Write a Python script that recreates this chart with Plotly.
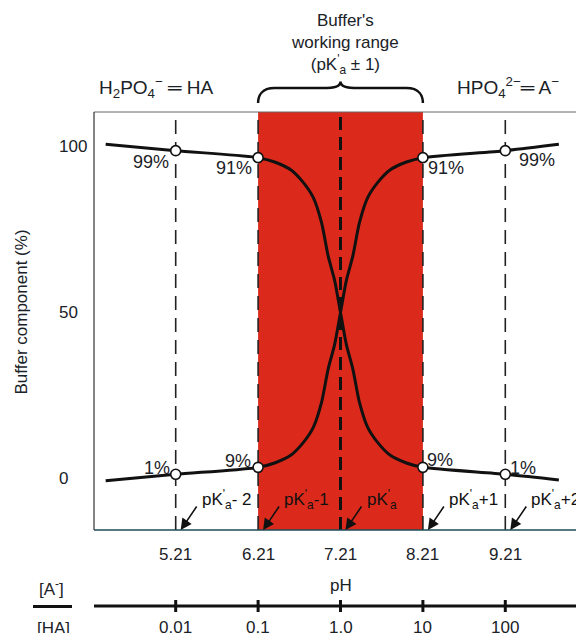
import plotly.graph_objects as go

# ---------------- data ----------------
ph = [4.36, 5.21, 6.21, 6.41, 6.61, 6.76, 6.88, 6.98, 7.06, 7.14, 7.21,
      7.28, 7.36, 7.44, 7.54, 7.66, 7.81, 8.01, 8.21, 9.21, 9.86]
ha_pct = [100.5, 98.6, 96.5, 95.2, 92.8, 89.0, 84.5, 77.0, 67.0, 59.5, 50.0,
          40.5, 33.0, 23.0, 15.5, 11.0, 7.2, 4.8, 3.5, 1.4, -0.3]
a_pct = [-0.5, 1.4, 3.5, 4.8, 7.2, 11.0, 15.5, 23.0, 33.0, 40.5, 50.0,
         59.5, 67.0, 77.0, 84.5, 89.0, 92.8, 95.2, 96.5, 98.6, 100.5]

circle_ph = [5.21, 6.21, 8.21, 9.21]
circle_ha = [98.6, 96.5, 3.5, 1.4]
circle_a = [1.4, 3.5, 96.5, 98.6]
ha_labels = ["99%", "91%", "9%", "1%"]
a_labels = ["1%", "9%", "91%", "99%"]

ph_ticks = [5.21, 6.21, 7.21, 8.21, 9.21]
ph_tick_labels = ["5.21", "6.21", "7.21", "8.21", "9.21"]
ratio_labels = ["0.01", "0.1", "1.0", "10", "100"]
pk_labels = ["pK<sup>'</sup><sub>a</sub>- 2", "pK<sup>'</sup><sub>a</sub>-1",
             "pK<sup>'</sup><sub>a</sub>", "pK<sup>'</sup><sub>a</sub>+1",
             "pK<sup>'</sup><sub>a</sub>+2"]
y_ticks = [100, 50, 0]
pka = 7.21
range_lo, range_hi = 6.21, 8.21

# ---------------- layout constants ----------------
W, H = 576, 633
ML, MR, MT, MB = 94, 0, 112, 103
PW, PH = W - ML - MR, H - MT - MB
FONT = "Liberation Sans, Arial, sans-serif"
TXT = "#1a2227"
RED = "#DB2A1C"


def py(p):
    """pixel row -> paper y"""
    return (H - MB - p) / PH


def px(p):
    """pixel column -> paper x"""
    return (p - ML) / PW


fig = go.Figure()

# curves
fig.add_trace(go.Scatter(x=ph, y=ha_pct, mode="lines",
                         line=dict(color="#111", width=3, shape="spline", smoothing=0.7),
                         hoverinfo="skip", showlegend=False))
fig.add_trace(go.Scatter(x=ph, y=a_pct, mode="lines",
                         line=dict(color="#111", width=3, shape="spline", smoothing=0.7),
                         hoverinfo="skip", showlegend=False))
# open circles
fig.add_trace(go.Scatter(x=circle_ph + circle_ph, y=circle_ha + circle_a, mode="markers",
                         marker=dict(size=10, color="white", line=dict(color="#111", width=1.6)),
                         hoverinfo="skip", showlegend=False))

shapes = []
# red working range
shapes.append(dict(type="rect", xref="x", yref="paper", x0=range_lo, x1=range_hi, y0=0, y1=1,
                   fillcolor=RED, line=dict(width=0), layer="below"))
# dashed vertical lines
for v in ph_ticks:
    if v == pka:
        shapes.append(dict(type="line", xref="x", yref="paper", x0=v, x1=v, y0=0, y1=1,
                           layer="below",
                           line=dict(color="#111", width=3, dash="13px,7px")))
    else:
        shapes.append(dict(type="line", xref="x", yref="paper", x0=v, x1=v, y0=0, y1=1,
                           layer="below",
                           line=dict(color="#222", width=1.6, dash="14px,8px")))
# frame
shapes.append(dict(type="line", xref="paper", yref="paper", x0=0, x1=1, y0=1, y1=1,
                   line=dict(color="#666", width=1)))
shapes.append(dict(type="line", xref="paper", yref="paper", x0=0, x1=1, y0=0, y1=0,
                   line=dict(color="#1d4a55", width=1.5)))
shapes.append(dict(type="line", xref="paper", yref="paper", x0=0, x1=0, y0=0, y1=1,
                   line=dict(color="#333", width=1.2)))
# brace above working range
ye, ys, yp = py(103), py(88), py(81.5)
m = pka
path = (f"M {range_lo},{ye} C {range_lo},{ys - 0.02} {range_lo + 0.04},{ys} {range_lo + 0.2},{ys} "
        f"L {m - 0.22},{ys} C {m - 0.06},{ys} {m},{ys + 0.004} {m},{yp} "
        f"C {m},{ys + 0.004} {m + 0.06},{ys} {m + 0.22},{ys} "
        f"L {range_hi - 0.2},{ys} C {range_hi - 0.04},{ys} {range_hi},{ys - 0.02} {range_hi},{ye}")
shapes.append(dict(type="path", xref="x", yref="paper", path=path,
                   line=dict(color="#111", width=2.5)))
# bottom ratio axis
shapes.append(dict(type="line", xref="paper", yref="paper", x0=0, x1=1, y0=py(606), y1=py(606),
                   line=dict(color="#111", width=3)))
for v in ph_ticks:
    shapes.append(dict(type="line", xref="x", yref="paper", x0=v, x1=v, y0=py(600), y1=py(612),
                       line=dict(color="#111", width=3)))
# fraction bar
shapes.append(dict(type="line", xref="paper", yref="paper", x0=px(33), x1=px(72),
                   y0=py(606.5), y1=py(606.5), line=dict(color="#111", width=3)))

ann = []
f17 = dict(family=FONT, size=17, color=TXT)
f18 = dict(family=FONT, size=18, color=TXT)
fpk = dict(family=FONT, size=17, color="#111")

# percentage labels
ha_off = [("right", -5, -11), ("right", -4, -10), ("left", 2, 7), ("left", 3, 6)]
a_off = [("right", -4, 6), ("right", -5, 6), ("left", 3, -10), ("left", 12, -9)]
for x, y, t, (anc, xs, ys_) in zip(circle_ph, circle_ha, ha_labels, ha_off):
    ann.append(dict(x=x, y=y, xref="x", yref="y", text=t, showarrow=False, font=f18,
                    xanchor=anc, yanchor="middle", xshift=xs, yshift=ys_))
for x, y, t, (anc, xs, ys_) in zip(circle_ph, circle_a, a_labels, a_off):
    ann.append(dict(x=x, y=y, xref="x", yref="y", text=t, showarrow=False, font=f18,
                    xanchor=anc, yanchor="middle", xshift=xs, yshift=ys_))

# pK labels with arrows
for v, t in zip(ph_ticks, pk_labels):
    ann.append(dict(x=v, y=py(499), xref="x", yref="paper", text=t, showarrow=False,
                    font=fpk, xanchor="left", yanchor="middle", xshift=24))
    ann.append(dict(x=v, y=0, xref="x", yref="paper", text="", showarrow=True,
                    xshift=5, ax=17, ay=-25, arrowhead=2, arrowsize=1.4, arrowwidth=1.6,
                    arrowcolor="#111"))

# pH tick labels
for v, t in zip(ph_ticks, ph_tick_labels):
    ann.append(dict(x=v, y=py(554), xref="x", yref="paper", text=t, showarrow=False,
                    font=f17, xanchor="center", yanchor="middle"))
# ratio labels
for v, t in zip(ph_ticks, ratio_labels):
    ann.append(dict(x=v, y=py(627), xref="x", yref="paper", text=t, showarrow=False,
                    font=f17, xanchor="center", yanchor="middle"))
# y tick labels
for v in y_ticks:
    ann.append(dict(x=px(57), y=v, xref="paper", yref="y", text=str(v), showarrow=False,
                    font=f17, xanchor="left", yanchor="middle"))

# other text
ann.append(dict(x=px(20.5), y=py(312), xref="paper", yref="paper", text="Buffer component (%)",
                showarrow=False, font=f17, textangle=-90, xanchor="center", yanchor="middle"))
ann.append(dict(x=pka, y=py(585), xref="x", yref="paper", text="pH", showarrow=False,
                font=f17, xanchor="center", yanchor="middle"))
ann.append(dict(x=px(51), y=py(588), xref="paper", yref="paper", text="[A<sup>-</sup>]",
                showarrow=False, font=f17, xanchor="center", yanchor="middle"))
ann.append(dict(x=px(53), y=py(628), xref="paper", yref="paper", text="[HA]",
                showarrow=False, font=f17, xanchor="center", yanchor="middle"))
ann.append(dict(x=pka, y=py(44), xref="x", yref="paper",
                text="Buffer's<br>working range<br>(pK<sup>'</sup><sub>a</sub> ± 1)",
                showarrow=False, font=f17, xanchor="center", yanchor="middle", xshift=4))
ann.append(dict(x=px(97), y=py(88), xref="paper", yref="paper",
                text="H<sub>2</sub>PO<sub>4</sub><sup>−</sup> ═ HA",
                showarrow=False, font=dict(family=FONT, size=19, color=TXT),
                xanchor="left", yanchor="middle"))
ann.append(dict(x=px(455), y=py(88), xref="paper", yref="paper",
                text="HPO<sub>4</sub><sup>2−</sup>═ A<sup>−</sup>",
                showarrow=False, font=dict(family=FONT, size=19, color=TXT),
                xanchor="left", yanchor="middle"))

fig.update_layout(
    width=W, height=H,
    margin=dict(l=ML, r=MR, t=MT, b=MB, pad=0),
    paper_bgcolor="white", plot_bgcolor="white",
    xaxis=dict(range=[4.2185, 10.068], visible=False, fixedrange=True),
    yaxis=dict(range=[-15.32, 110.21], visible=False, fixedrange=True),
    shapes=shapes, annotations=ann, showlegend=False,
)

fig.write_html("out.html", config=dict(displayModeBar=False),
               post_script="document.body.style.margin='0';")
